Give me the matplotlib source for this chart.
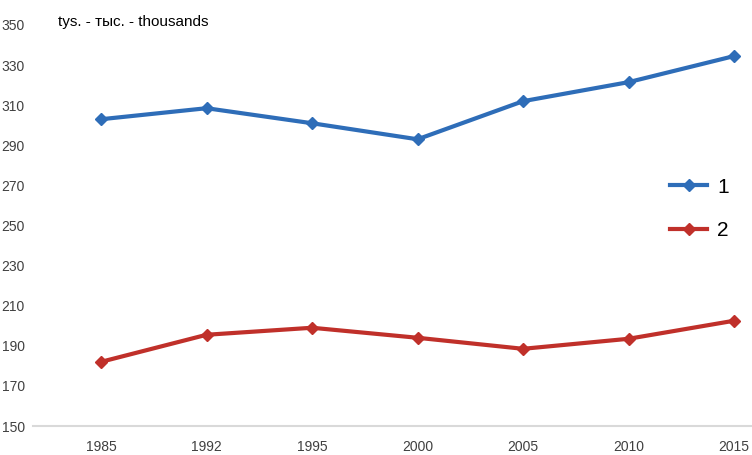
import matplotlib
matplotlib.use("Agg")
import matplotlib.pyplot as plt
from matplotlib import font_manager

years = ["1985", "1992", "1995", "2000", "2005", "2010", "2015"]
series1 = [303, 308.5, 301, 293, 312, 321.5, 334.5]
series2 = [182, 195.5, 199, 194, 188.5, 193.5, 202.5]
labels = ["1", "2"]
yticks = list(range(150, 351, 20))

names = {f.name for f in font_manager.fontManager.ttflist}
fam = "Liberation Sans Narrow" if "Liberation Sans Narrow" in names else "Liberation Sans"
plt.rcParams["font.family"] = [fam, "DejaVu Sans"]

fig = plt.figure(figsize=(7.52, 4.55), dpi=100)
ax = fig.add_axes([33/752, 1-426/455, 1-33/752, (426-25)/455])

x = list(range(len(years)))
ax.plot(x, series1, color="#2E6DB8", lw=3, marker="D", ms=6, label=labels[0])
ax.plot(x, series2, color="#C0302A", lw=3, marker="D", ms=6, label=labels[1])

ax.set_ylim(150, 350)
ax.set_xlim(-0.645, 6.17)
ax.set_yticks(yticks)
ax.set_xticks(x)
ax.set_xticklabels(years)
ax.tick_params(axis="both", length=0, labelsize=10, colors="#404040")
ax.tick_params(axis="y", pad=6)
ax.tick_params(axis="x", pad=10)
for s in ["top", "right", "left"]:
    ax.spines[s].set_visible(False)
ax.spines["bottom"].set_color("#D9D9D9")
ax.spines["bottom"].set_linewidth(1.5)

fig.text(58/752, 1-22/455, "tys. - тыс. - thousands", fontsize=11, color="#000000", va="center", ha="left")

leg = ax.legend(loc="upper left", bbox_to_anchor=(0.86, 0.666), frameon=False, fontsize=15,
                handlelength=1.78, labelspacing=1.19, handletextpad=0.48)
fig.savefig("out.png", dpi=100)
